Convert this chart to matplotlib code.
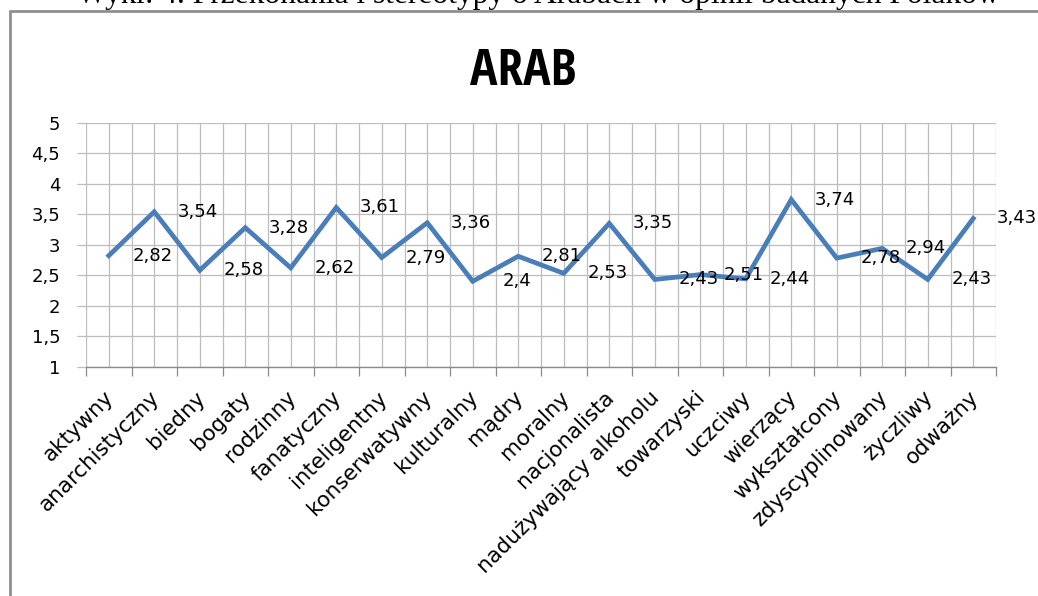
import matplotlib
matplotlib.use("Agg")
import matplotlib.pyplot as plt
from matplotlib import font_manager
from matplotlib.patches import Rectangle
from matplotlib.ticker import FixedLocator, FuncFormatter, MultipleLocator
from matplotlib.transforms import ScaledTranslation

categories = ["aktywny", "anarchistyczny", "biedny", "bogaty", "rodzinny",
              "fanatyczny", "inteligentny", "konserwatywny", "kulturalny", "mądry",
              "moralny", "nacjonalista", "nadużywający alkoholu", "towarzyski",
              "uczciwy", "wierzący", "wykształcony", "zdyscyplinowany", "życzliwy",
              "odważny"]
values = [2.82, 3.54, 2.58, 3.28, 2.62, 3.61, 2.79, 3.36, 2.40, 2.81,
          2.53, 3.35, 2.43, 2.51, 2.44, 3.74, 2.78, 2.94, 2.43, 3.43]
chart_title = "ARAB"
header = "Wykr. 4. Przekonania i stereotypy o Arabach w opinii badanych Polaków"

W, H = 1038, 596
fig = plt.figure(figsize=(W / 100, H / 100), dpi=100)
fig.patch.set_facecolor("white")

def fx(px):
    return px / W

def fy(py):
    return 1 - py / H

# outer frame (open to right and bottom)
frame = Rectangle((fx(10), -0.2), 1.2, fy(11) + 0.2, transform=fig.transFigure,
                  fill=False, edgecolor="#8a8a8a", linewidth=1.9, clip_on=False)
fig.patches.append(frame)

# header (partially cut at top, as in the source)
ht = fig.text(fx(538), fy(3.5), header, ha="center", va="baseline",
              fontsize=21, family=["Liberation Serif", "DejaVu Serif"], color="black")
fig.canvas.draw()
bb = ht.get_window_extent()
ht.set_fontsize(21 * 920 / bb.width)

# chart title: prefer a condensed bold face
avail = {f.name for f in font_manager.fontManager.ttflist}
cond = None
for nm in ["Liberation Sans Narrow", "DejaVu Sans Condensed", "Open Sans Condensed",
           "Roboto Condensed"]:
    if nm in avail:
        cond = nm
        break
if cond:
    tt = fig.text(fx(523), fy(85), chart_title, ha="center", va="baseline",
                  fontsize=37, fontweight="bold", family=cond, color="black")
else:
    tt = fig.text(fx(523), fy(85), chart_title, ha="center", va="baseline",
                  fontsize=31, fontweight="bold", family="DejaVu Sans", color="black")

left, right, top, bottom = 86, 996, 122.7, 366.7
ax = fig.add_axes([fx(left), fy(bottom), (right - left) / W, (bottom - top) / H])
ax.set_facecolor("white")

x = list(range(len(categories)))
ax.plot(x, values, color="#4A7EBB", linewidth=3.4, solid_joinstyle="miter", zorder=3)

ax.set_xlim(-0.5, len(categories) - 0.5)
ax.set_ylim(1, 5)

grid_c = "#bdbdbd"
axis_c = "#8a8a8a"

# y axis
ax.yaxis.set_major_locator(MultipleLocator(0.5))
ax.yaxis.set_major_formatter(FuncFormatter(lambda v, p: f"{v:g}".replace(".", ",")))
ax.tick_params(axis="y", which="major", direction="out", length=6.5, width=0.9,
               color=grid_c, pad=12, labelsize=13, labelcolor="black")
for lab in ax.get_yticklabels():
    lab.set_family("DejaVu Sans")

# x axis: boundaries as major ticks, labels at centers
bounds = [i - 0.5 for i in range(len(categories) + 1)]
ax.xaxis.set_major_locator(FixedLocator(bounds))
ax.xaxis.set_major_formatter(FuncFormatter(lambda v, p: ""))
ax.set_xticks(x, minor=True)
ax.set_xticklabels(categories, minor=True, rotation=45, ha="right",
                   rotation_mode="anchor", va="center", fontsize=15.4,
                   family="DejaVu Sans")
ax.tick_params(axis="x", which="major", direction="out", length=6.5, width=0.9,
               color=axis_c)
ax.tick_params(axis="x", which="minor", length=0, pad=20)
off = ScaledTranslation(2 / 100, 0, fig.dpi_scale_trans)
for lab in ax.get_xticklabels(minor=True):
    lab.set_transform(lab.get_transform() + off)

# grid
ax.grid(True, which="major", axis="y", color=grid_c, linewidth=0.9, zorder=0)
ax.grid(True, which="both", axis="x", color=grid_c, linewidth=0.9, zorder=0)
ax.set_axisbelow(True)

for s in ["top", "right", "left"]:
    ax.spines[s].set_visible(False)
ax.spines["bottom"].set_color(axis_c)
ax.spines["bottom"].set_linewidth(1.0)

# data labels
for xi, v in zip(x, values):
    ax.annotate(f"{v:g}".replace(".", ","), (xi, v), xytext=(31.5, 0),
                textcoords="offset points", ha="center", va="center",
                fontsize=13, family="DejaVu Sans", color="black", zorder=4,
                annotation_clip=False)

fig.savefig("out.png", dpi=100, facecolor="white")
